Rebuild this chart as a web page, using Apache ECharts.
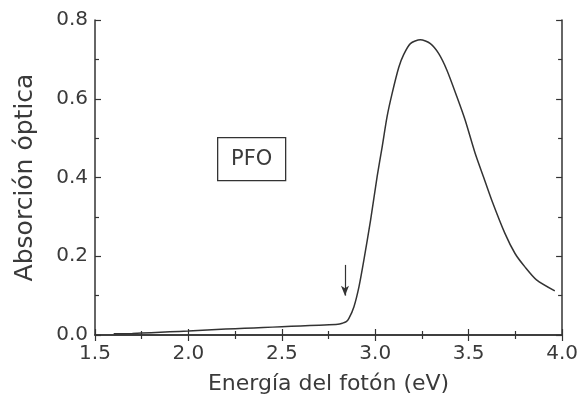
<!DOCTYPE html>
<html>
<head>
<meta charset="utf-8">
<script src="https://cdn.jsdelivr.net/npm/echarts@6/dist/echarts.min.js"></script>
<style>
  html, body { margin: 0; padding: 0; background: #fff; }
  #main { width: 581px; height: 400px; }
</style>
</head>
<body>
<div id="main"></div>
<script>
// datos
const energy = [1.60, 1.70, 1.80, 1.90, 2.00, 2.10, 2.20, 2.30, 2.40, 2.50, 2.60, 2.70, 2.80,
  2.824, 2.845, 2.859, 2.886, 2.913, 2.939, 2.975, 3.010, 3.037, 3.063, 3.090, 3.126, 3.152, 3.188,
  3.241, 3.295, 3.339, 3.383, 3.437, 3.481, 3.535, 3.579, 3.623, 3.694, 3.748, 3.801, 3.863, 3.961]
const absorb = [0.003, 0.004, 0.006, 0.008, 0.010, 0.013, 0.015, 0.017, 0.019, 0.021, 0.023, 0.025, 0.027,
  0.030, 0.034, 0.042, 0.072, 0.123, 0.190, 0.292, 0.402, 0.478, 0.554, 0.613, 0.680, 0.712, 0.740,
  0.750, 0.740, 0.715, 0.673, 0.605, 0.546, 0.461, 0.402, 0.343, 0.258, 0.207, 0.173, 0.140, 0.112]
const arrowAt = [[2.838, 0.178], [2.838, 0.100]]
const label = 'PFO'

const textColor = '#3a3a3a'
const font = 'DejaVu Sans'

const xBase = {
  type: 'value', min: 1.5, max: 4.0, interval: 0.5,
  axisLine: { lineStyle: { color: '#333', width: 1.5 } },
  axisTick: { inside: true, length: 6, lineStyle: { color: '#333', width: 1.2 } },
  minorTick: { show: true, splitNumber: 2, length: 4, lineStyle: { color: '#333', width: 1.2 } },
  splitLine: { show: false }
}
const yBase = {
  type: 'value', min: 0, max: 0.8, interval: 0.2,
  axisLine: { lineStyle: { color: '#333', width: 1.5 } },
  axisTick: { inside: true, length: 6, lineStyle: { color: '#333', width: 1.2 } },
  minorTick: { show: true, splitNumber: 2, length: 4, lineStyle: { color: '#333', width: 1.2 } },
  splitLine: { show: false }
}

const chart = echarts.init(document.getElementById('main'), null, { renderer: 'canvas' })
chart.setOption({
  animation: false,
  backgroundColor: '#fff',
  grid: { left: 95, right: 17, top: 20, bottom: 65 },
  xAxis: [
    {
      ...xBase, position: 'bottom',
      name: 'Energía del fotón (eV)', nameLocation: 'middle', nameGap: 38,
      nameTextStyle: { color: textColor, fontSize: 22, fontFamily: font },
      axisLabel: { color: textColor, fontSize: 20, fontFamily: font, margin: 9,
        formatter: v => v.toFixed(1) }
    },
    { ...xBase, position: 'top', axisLabel: { show: false } }
  ],
  yAxis: [
    {
      ...yBase, position: 'left',
      name: 'Absorción óptica', nameLocation: 'middle', nameGap: 57,
      nameTextStyle: { color: textColor, fontSize: 25, fontFamily: font },
      axisLabel: { color: textColor, fontSize: 20, fontFamily: font, margin: 7,
        formatter: v => v.toFixed(1) }
    },
    { ...yBase, position: 'right', axisLabel: { show: false } }
  ],
  graphic: [
    {
      type: 'group', left: 217, top: 137,
      children: [
        { type: 'rect', shape: { x: 0, y: 0, width: 68, height: 43 },
          style: { fill: '#fff', stroke: '#333', lineWidth: 1.3 } },
        { type: 'text', x: 34, y: 22,
          style: { text: label, fill: textColor, fontSize: 21, fontFamily: font,
            align: 'center', verticalAlign: 'middle' } }
      ]
    }
  ],
  series: [{
    type: 'line',
    data: energy.map((e, i) => [e, absorb[i]]),
    smooth: 0.25,
    symbol: 'none',
    lineStyle: { color: '#333', width: 1.5 },
    markLine: {
      silent: true,
      symbol: ['none', 'arrow'],
      symbolSize: [6, 10],
      label: { show: false },
      lineStyle: { color: '#333', width: 1.2, type: 'solid' },
      data: [[{ coord: arrowAt[0] }, { coord: arrowAt[1] }]]
    }
  }]
})
</script>
</body>
</html>
